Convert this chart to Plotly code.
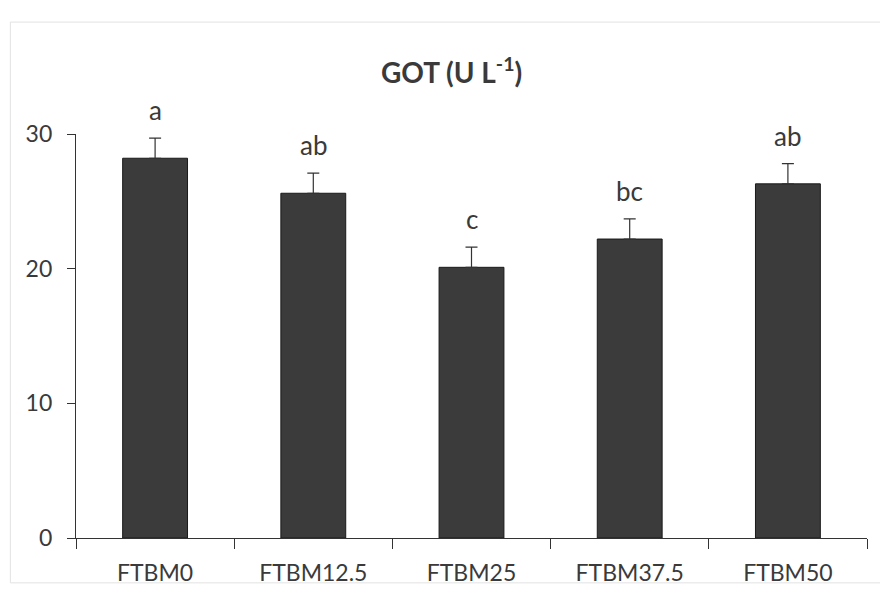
import plotly.graph_objects as go

categories = ["FTBM0", "FTBM12.5", "FTBM25", "FTBM37.5", "FTBM50"]
means = [28.2, 25.6, 20.1, 22.2, 26.3]
errors = [1.5, 1.5, 1.5, 1.5, 1.5]
letters = ["a", "ab", "c", "bc", "ab"]
y_ticks = [0, 10, 20, 30]

FONT = "Lato, Open Sans, sans-serif"
TXT = "#3a3a3a"

fig = go.Figure()
fig.add_trace(go.Bar(
    x=categories, y=means,
    marker=dict(color="#3b3b3b", line=dict(color="#1a1a1a", width=1)),
    width=0.41,
    error_y=dict(type="data", symmetric=False, array=errors,
                 arrayminus=[0] * len(errors),
                 color="#333333", thickness=1.2, width=6),
    showlegend=False,
))

for c, m, e, l in zip(categories, means, errors, letters):
    fig.add_annotation(x=c, y=m + e, text=l, showarrow=False,
                       yanchor="bottom", yshift=10,
                       font=dict(family=FONT, size=26, color=TXT))

fig.add_annotation(xref="paper", yref="paper", x=0.475, y=1.0,
                   yshift=64, yanchor="middle", showarrow=False,
                   text="<b>GOT (U L<sup>-1</sup>)</b>",
                   font=dict(family=FONT, size=28, color=TXT))

fig.add_shape(type="rect", xref="paper", yref="paper",
              x0=-0.083, x1=1.04, y0=-0.111, y1=1.277,
              line=dict(color="#e2e2e2", width=1))

fig.update_layout(
    width=888, height=598,
    margin=dict(l=68, r=29, t=126, b=68),
    paper_bgcolor="white", plot_bgcolor="white",
    font=dict(family=FONT, size=22, color=TXT),
    xaxis=dict(showline=True, linecolor="#333333", linewidth=1.2,
               ticks="outside", tickson="boundaries", ticklen=10,
               tickcolor="#333333", showgrid=False, ticklabelstandoff=14,
               tickfont=dict(family=FONT, size=23, color=TXT)),
    yaxis=dict(range=[0, 30], tickvals=y_ticks, showline=True,
               linecolor="#333333", linewidth=1.2, ticks="outside",
               ticklen=8, tickcolor="#333333", showgrid=False,
               ticklabelstandoff=10,
               zeroline=False, tickfont=dict(family=FONT, size=23, color=TXT)),
    bargap=0.59,
)

fig.write_html("out.html")
